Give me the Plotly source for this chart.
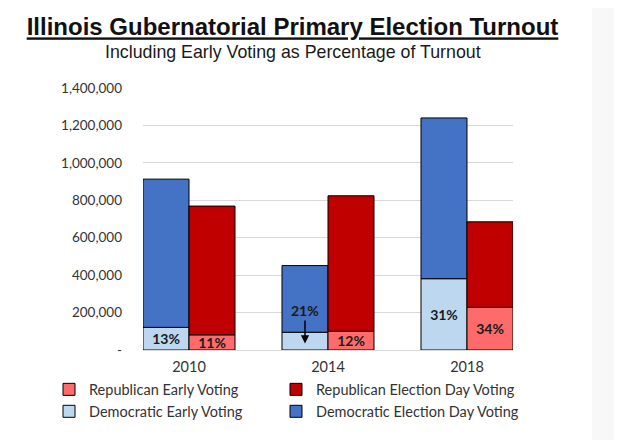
import plotly.graph_objects as go

years = ["2010", "2014", "2018"]
dem_total = [913000, 451000, 1240000]
dem_early = [121000, 95000, 381000]
rep_total = [769000, 824000, 685000]
rep_early = [81000, 100000, 228000]
dem_pct = ["13%", "", "31%"]
rep_pct = ["11%", "12%", "34%"]
arrow_label = "21%"
arrow_year = "2014"
y_ticks = [0, 200000, 400000, 600000, 800000, 1000000, 1200000, 1400000]
y_ticktext = ["-"] + [f"{v:,}" for v in y_ticks[1:]]

C_DEM_DAY = "#4472C4"
C_DEM_EARLY = "#BDD7EE"
C_REP_DAY = "#C00000"
C_REP_EARLY = "#FF6B6B"
LBL = "Lato, 'Open Sans', sans-serif"

dem_day = [t - e for t, e in zip(dem_total, dem_early)]
rep_day = [t - e for t, e in zip(rep_total, rep_early)]

line = dict(color="black", width=1)
txtfont = dict(family=LBL, size=14, color="#1a1a1a", weight="bold")

# page body has an 8px default margin: lay the figure out 8px up/left
OFF = 8
L, T = 143 - OFF, 88 - OFF
PW, PH = 370, 262.5
W, H = 630, 448


def px_x(sx):
    return (sx - OFF - L) / PW


def px_y(sy):
    return (T + PH - (sy - OFF)) / PH


fig = go.Figure()
fig.add_bar(x=years, y=dem_early, name="Democratic Early Voting", offsetgroup="dem",
            marker=dict(color=C_DEM_EARLY, line=line), text=dem_pct, textposition="inside",
            insidetextanchor="middle", textfont=txtfont, constraintext="none",
            legend="legend3", hoverinfo="skip")
fig.add_bar(x=years, y=dem_day, base=dem_early, name="Democratic Election Day Voting", offsetgroup="dem",
            marker=dict(color=C_DEM_DAY, line=line), legend="legend4", hoverinfo="skip")
fig.add_bar(x=years, y=rep_early, name="Republican Early Voting", offsetgroup="rep",
            marker=dict(color=C_REP_EARLY, line=line), text=rep_pct, textposition="inside",
            insidetextanchor="middle", textfont=txtfont, constraintext="none",
            legend="legend", hoverinfo="skip")
fig.add_bar(x=years, y=rep_day, base=rep_early, name="Republican Election Day Voting", offsetgroup="rep",
            marker=dict(color=C_REP_DAY, line=line), legend="legend2", hoverinfo="skip")

fig.add_annotation(x=years.index(arrow_year), y=35000, xshift=-23, ax=0, ay=-33, text=arrow_label,
                   showarrow=True, arrowhead=2, arrowsize=1.1, arrowwidth=1.5, arrowcolor="black",
                   font=txtfont)

fig.add_annotation(xref="paper", yref="paper", x=px_x(292.5), y=px_y(52), xanchor="center", yanchor="middle",
                   text="Including Early Voting as Percentage of Turnout", showarrow=False,
                   font=dict(family="Liberation Sans, Arial", size=17.8, color="#1a1a1a"))

fig.add_shape(type="rect", xref="paper", yref="paper", x0=px_x(592), x1=px_x(640), y0=px_y(460), y1=px_y(-20),
              fillcolor="#f8f8f8", line=dict(width=0), layer="below")

legend_common = dict(orientation="h", xref="paper", yref="paper", xanchor="left",
                     yanchor="middle", font=dict(family=LBL, size=14.5, color="#333333"),
                     bgcolor="rgba(0,0,0,0)", itemclick=False, itemdoubleclick=False)

fig.update_layout(
    width=W, height=H, showlegend=True,
    margin=dict(l=L, r=W - L - PW, t=T, b=H - T - PH, autoexpand=False),
    paper_bgcolor="white", plot_bgcolor="white",
    barmode="group", bargap=0.338, bargroupgap=0,
    title=dict(text="<b><u>Illinois Gubernatorial Primary Election Turnout</u></b>",
               xref="container", yref="container", x=(292.5 - OFF) / W, y=1 - (27 - OFF) / H,
               xanchor="center", yanchor="middle",
               font=dict(family="Liberation Sans, Arial", size=24, color="#111111")),
    xaxis=dict(type="category", range=[-0.331, 2.331], showgrid=False, showline=False,
               ticks="", ticklabelstandoff=6, automargin=False,
               tickfont=dict(family=LBL, size=14.5, color="#333333")),
    yaxis=dict(range=[0, 1400000], tickvals=y_ticks, ticktext=y_ticktext,
               showgrid=True, gridcolor="#d9d9d9", gridwidth=1,
               zeroline=True, zerolinecolor="#d9d9d9", zerolinewidth=1,
               showline=False, ticks="", ticklabelstandoff=20, automargin=False,
               tickfont=dict(family=LBL, size=13.5, color="#333333")),
    legend=dict(x=px_x(49), y=px_y(390), **legend_common),
    legend2=dict(x=px_x(276), y=px_y(390), **legend_common),
    legend3=dict(x=px_x(49), y=px_y(412), **legend_common),
    legend4=dict(x=px_x(276), y=px_y(412), **legend_common),
)

fig.write_html("out.html")
